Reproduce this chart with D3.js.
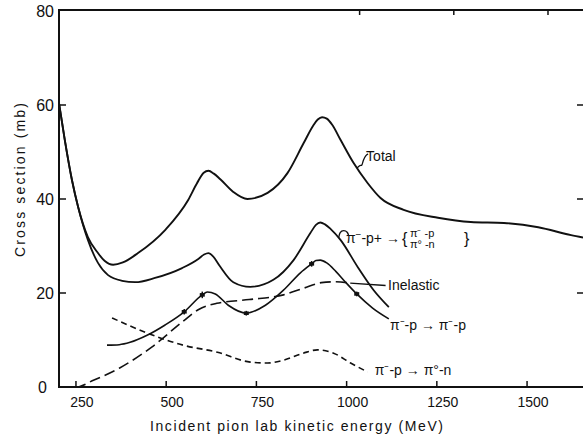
<!DOCTYPE html>
<html>
<head>
<meta charset="utf-8">
<script src="https://cdn.jsdelivr.net/npm/d3@7"></script>
<style>
  html, body { margin: 0; padding: 0; background: #fff; }
  svg { display: block; }
  text { font-family: "Liberation Sans", Arial, sans-serif; fill: #111; }
</style>
</head>
<body>
<svg id="chart" width="583" height="437"></svg>
<script>
// ---------- data (MeV, mb) ----------
const totalE   = [203,219,239,256,283,311,330,353,380,422,497,561,585,604,617,632,650,686,725,781,836,881,908,920,932,945,960,983,1019,1058,1094,1158,1253,1344,1436,1531,1622,1655];
const totalMb  = [60.4,52.6,44,38.3,31.9,28.5,26.8,26,26.5,28.5,33.4,39.8,43.3,45.6,46,45.4,44.2,41.5,40,41.3,45.5,51.9,55.7,56.9,57.4,57.1,55.8,52.6,47.7,43.4,40.2,37.7,36,35.1,34.9,34,32.3,31.8];

const sumE     = [203,219,239,256,283,311,339,378,414,469,544,590,605,617,630,648,686,733,797,853,900,915,927,940,956,983,1031,1075,1117];
const sumMb    = [60.4,52.6,44,38.3,31.3,26.4,23.8,22.6,22.3,23.2,25.3,27.3,28.2,28.5,27.8,25.8,22.3,21.3,22.8,27,32.8,34.5,35,34.6,33.6,31.3,25.5,20.6,17];

const elasticE  = [336,370,400,447,497,550,600,614,636,672,722,775,825,872,903,915,927,945,970,997,1028,1072,1117];
const elasticMb = [8.9,9.0,9.5,11,13.2,16,19.6,20.2,19.8,17.4,15.7,17.4,20.6,24.3,26.2,26.9,27,26.4,24.6,22.3,19.8,16.8,14.5];

const errE  = [550,600,722,903,1028];
const errMb = [16,19.6,15.7,26.2,19.8];
const errDy = [0.6,0.7,0.5,0.6,0.5];

const inelE  = [203,250,300,370,460,547,590,640,730,825,880,930,970,1010];
const inelMb = [0,0,1.5,4,8.5,14,16.5,17.8,18.6,19.6,21,22.2,22.4,22.1];

const cexE  = [350,447,547,642,733,781,825,880,919,964,1011,1058];
const cexMb = [14.7,11.5,8.9,7.4,5.3,5.1,5.7,7.2,7.9,7.2,5.1,3.2];

const xTicks = [250,500,750,1000,1250,1500];
const yTicks = [0,20,40,60,80];
const topTicks = [1036,1297,1558];

// ---------- scales ----------
const svg = d3.select("#chart");
const x = d3.scaleLinear().domain([203,1655]).range([59,583]);
const y = d3.scaleLinear().domain([0,80]).range([387,11]);

const zip = (a,b) => a.map((v,i)=>[v,b[i]]);
const line = d3.line().x(d=>x(d[0])).y(d=>y(d[1])).curve(d3.curveMonotoneX);
const interp = (e, es, ms) => {
  const i = d3.bisectRight(es, e) - 1;
  const t = (e - es[i]) / (es[i+1] - es[i]);
  return ms[i] + t * (ms[i+1] - ms[i]);
};

svg.append("clipPath").attr("id","clip").append("rect")
  .attr("x",59).attr("y",10).attr("width",524).attr("height",377);
const plot = svg.append("g").attr("clip-path","url(#clip)");

// ---------- curves ----------
plot.append("path").datum(zip(totalE,totalMb)).attr("d",line)
  .attr("fill","none").attr("stroke","#111").attr("stroke-width",1.9);
plot.append("path").datum(zip(sumE,sumMb)).attr("d",line)
  .attr("fill","none").attr("stroke","#111").attr("stroke-width",1.8);
plot.append("path").datum(zip(elasticE,elasticMb)).attr("d",line)
  .attr("fill","none").attr("stroke","#111").attr("stroke-width",1.6);
plot.append("path").datum(zip(inelE,inelMb)).attr("d",line)
  .attr("fill","none").attr("stroke","#111").attr("stroke-width",1.6)
  .attr("stroke-dasharray","11,5");
plot.append("path").datum(zip(cexE,cexMb)).attr("d",line)
  .attr("fill","none").attr("stroke","#111").attr("stroke-width",1.6)
  .attr("stroke-dasharray","6,4");

// error bars
const eb = plot.selectAll(".eb").data(errE.map((e,i)=>({e, m:errMb[i], d:errDy[i]}))).enter().append("g");
eb.append("line").attr("x1",d=>x(d.e)).attr("x2",d=>x(d.e))
  .attr("y1",d=>y(d.m+d.d)).attr("y2",d=>y(d.m-d.d)).attr("stroke","#111").attr("stroke-width",1.5);
eb.append("rect").attr("x",d=>x(d.e)-2.5).attr("y",d=>y(d.m)-1.8).attr("width",5).attr("height",3.6).attr("fill","#111");

// ---------- frame & ticks ----------
const ax = svg.append("g").attr("stroke","#111").attr("stroke-width",2).attr("fill","none");
ax.append("line").attr("x1",59).attr("x2",59).attr("y1",10).attr("y2",388);
ax.append("line").attr("x1",58).attr("x2",583).attr("y1",387).attr("y2",387);
ax.append("line").attr("x1",58).attr("x2",583).attr("y1",10).attr("y2",10);
xTicks.forEach(t=>{
  ax.append("line").attr("x1",x(t)).attr("x2",x(t)).attr("y1",387).attr("y2",381).attr("stroke-width",1.5);
});
topTicks.forEach(t=>{
  ax.append("line").attr("x1",x(t)).attr("x2",x(t)).attr("y1",10).attr("y2",15).attr("stroke-width",1.5);
});
yTicks.filter(t=>t>0&&t<80).forEach(t=>{
  ax.append("line").attr("x1",59).attr("x2",66).attr("y1",y(t)).attr("y2",y(t)).attr("stroke-width",1.5);
  ax.append("line").attr("x1",577).attr("x2",583).attr("y1",y(t)).attr("y2",y(t)).attr("stroke-width",1.5);
});

// tick labels
svg.selectAll(".xt").data(xTicks).enter().append("text")
  .attr("x",d=>x(d)+6).attr("y",407).attr("text-anchor","middle")
  .style("font-size","14px").text(d=>d);
svg.selectAll(".yt").data(yTicks).enter().append("text")
  .attr("x",d=> d===0 ? 47 : 54).attr("y",d=>y(d)+6).attr("text-anchor","end")
  .style("font-size","16px").text(d=>d);

// axis titles
svg.append("text").attr("x",150).attr("y",431)
  .attr("textLength",293).attr("lengthAdjust","spacing")
  .style("font-size","14px").text("Incident pion lab kinetic energy   (MeV)");
svg.append("text").attr("transform","translate(25,257) rotate(-90)")
  .attr("textLength",154).attr("lengthAdjust","spacing")
  .style("font-size","14px").text("Cross section  (mb)");

// ---------- annotations ----------
const ann = svg.append("g");
// Total
const tE = 1029, tx = x(tE), ty = y(interp(tE, totalE, totalMb));
ann.append("path")
  .attr("d", d3.line().curve(d3.curveBasis)([[tx,ty],[tx+3,ty-3],[tx+5,ty-2],[tx+6,ty-8],[tx+9,ty-13],[tx+11,ty-14]]))
  .attr("fill","none").attr("stroke","#111").attr("stroke-width",1.3);
ann.append("text").attr("x",x(1054)).attr("y",y(48.1)).style("font-size","14px").text("Total");

// sum label
const hE = 978, hx = x(hE), hy = y(interp(hE, sumE, sumMb));
ann.append("path")
  .attr("d", d3.line().curve(d3.curveBasis)([[hx,hy],[hx+1,hy-6],[hx+5,hy-8],[hx+9,hy-6],[hx+10,hy-2]]))
  .attr("fill","none").attr("stroke","#111").attr("stroke-width",1.3);
const sx = x(998), sy = y(31.7);
const st = ann.append("text").attr("x",sx).attr("y",sy+5).style("font-size","14px");
st.append("tspan").text("π");
st.append("tspan").attr("dy",-5).style("font-size","10px").text("−");
st.append("tspan").attr("dy",5).text("-p+ →");
ann.append("text").attr("x",sx+56).attr("y",sy+6).style("font-size","16px").text("{");
ann.append("text").attr("x",sx+64).attr("y",sy-1).style("font-size","11px").text("π⁻ -p");
ann.append("text").attr("x",sx+64).attr("y",sy+10).style("font-size","11px").text("π° -n");
ann.append("text").attr("x",sx+118).attr("y",sy+6).style("font-size","16px").text("}");

// Inelastic
ann.append("line").attr("x1",x(1010)).attr("x2",x(1108)).attr("y1",y(22.1)).attr("y2",y(21.6))
  .attr("stroke","#111").attr("stroke-width",1.3);
ann.append("text").attr("x",x(1115)).attr("y",y(21.7)+5).style("font-size","14px").text("Inelastic");

// elastic label
ann.append("text").attr("x",x(1120)).attr("y",y(13.2)+5).style("font-size","14px").text("π⁻-p → π⁻-p");
// charge exchange label
ann.append("text").attr("x",x(1078)).attr("y",y(3.6)+5).style("font-size","14px").text("π⁻-p → π°-n");
</script>
</body>
</html>
